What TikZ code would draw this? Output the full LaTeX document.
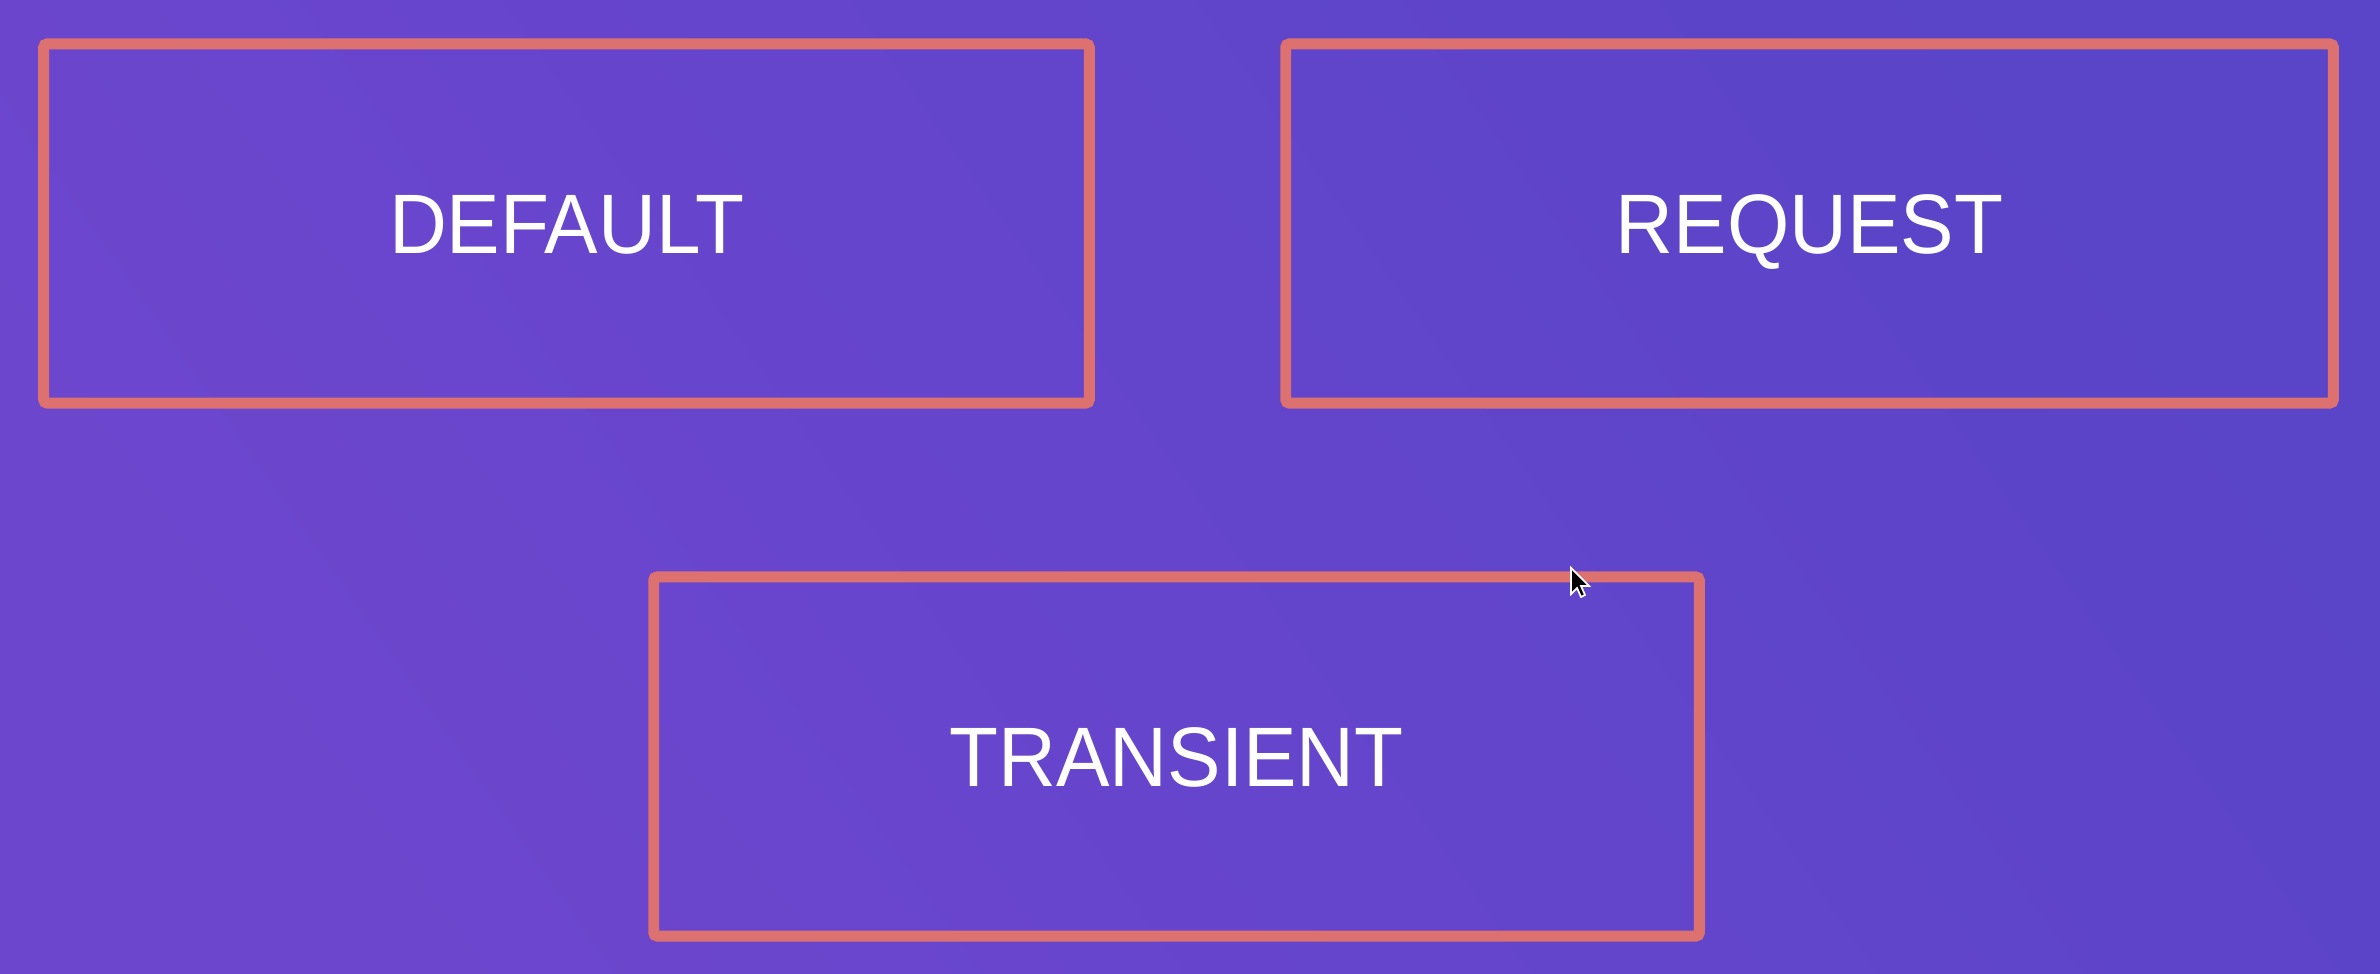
\documentclass[tikz,border=0pt]{standalone}
\usepackage{fontspec}
\setmainfont{Liberation Sans}[FakeStretch=0.95]
\definecolor{bgA}{RGB}{109,70,206}
\definecolor{bgB}{RGB}{90,68,200}
\definecolor{boxline}{RGB}{220,113,112}
\tikzset{
  panel/.style={draw=boxline, line width=3.1pt, rounded corners=1pt, rectangle,
    minimum width=10.45cm, minimum height=3.59cm, inner sep=0pt,
    text height=17pt, text depth=0pt,
    text=white, font=\fontsize{24}{28}\selectfont},
}
\begin{document}
\begin{tikzpicture}[x=0.01cm,y=-0.01cm]
\shade[top color=bgA, bottom color=bgB, shading angle=125] (0,0) rectangle (2380,974);
\useasboundingbox (0,0) rectangle (2380,974);
\node[panel] (default) at (566.5,223.5) {DEFAULT};
\node[panel, minimum width=10.47cm] (request) at (1809.5,223.5) {REQUEST};
\node[panel] (transient) at (1176.5,756.5) {TRANSIENT};
% mouse cursor
\fill[black, draw=white, line width=0.5pt] (1571,568) -- (1571,594) -- (1577,588) -- (1581,597) -- (1585,595) -- (1581,586) -- (1589,586) -- cycle;
\end{tikzpicture}
\end{document}
